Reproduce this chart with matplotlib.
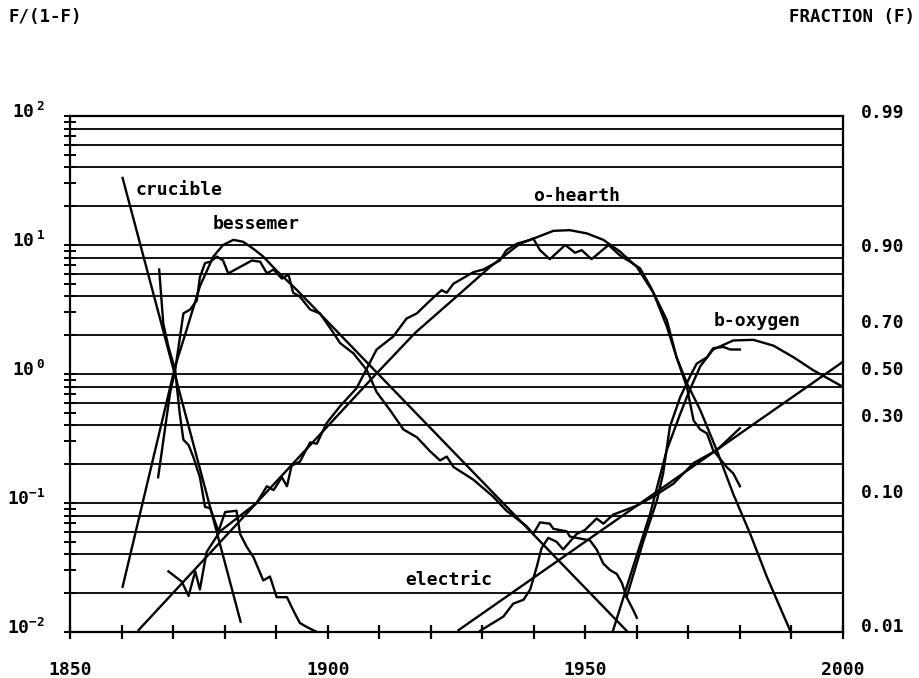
import numpy as np
import matplotlib
matplotlib.use("Agg")
import matplotlib.pyplot as plt
from matplotlib.ticker import FixedLocator, NullLocator, LogLocator
from matplotlib.transforms import ScaledTranslation

plt.rcParams["font.family"] = ["DejaVu Sans Mono"]
plt.rcParams["font.weight"] = "bold"
plt.rcParams["mathtext.default"] = "regular"

# log10 of F/(1-F)
crucible_fit_years = [1860.2, 1883.1]
crucible_fit_log = [1.52, -1.92]

crucible_years = [1867.3, 1868.1, 1869.1, 1870.4, 1871.3, 1872.0, 1873.0, 1873.9, 1875.2,
                  1876.2, 1877.2, 1878.8, 1880.1, 1882.3, 1883.0, 1884.3, 1885.6, 1887.5,
                  1888.8, 1890.1, 1892.1, 1893.3, 1894.6, 1895.9, 1897.9]
crucible_log = [0.81, 0.39, 0.21, 0.03, -0.31, -0.51, -0.55, -0.64, -0.80,
                -1.03, -1.04, -1.22, -1.07, -1.06, -1.24, -1.34, -1.42, -1.60,
                -1.57, -1.73, -1.73, -1.83, -1.93, -1.96, -2.00]

bessemer_model_years = [1860.2, 1870.4, 1872.6, 1875.2, 1877.8, 1879.7, 1881.7, 1883.6, 1885.6,
                        1887.5, 1890.1, 1893.3, 1896.0, 1958.0]
bessemer_model_log = [-1.65, 0.06, 0.34, 0.68, 0.91, 1.00, 1.04, 1.025, 0.97,
                      0.91, 0.80, 0.68, 0.57, -1.99]

bessemer_years = [1867.1, 1869.4, 1870.4, 1872.0, 1873.3, 1874.6, 1875.2, 1876.2, 1877.2,
                  1878.5, 1879.7, 1880.7, 1883.0, 1885.3, 1886.9, 1888.2, 1889.5, 1891.1,
                  1892.4, 1893.3, 1894.6, 1896.6, 1898.5, 1901.1, 1902.4, 1905.0, 1907.6,
                  1909.5, 1912.1, 1914.7, 1917.3, 1919.9, 1921.8, 1923.1, 1924.4, 1928.3,
                  1932.1, 1934.7, 1938.6, 1939.9, 1941.2, 1943.1, 1943.8, 1946.4, 1947.0,
                  1950.9, 1952.2, 1953.5, 1954.8, 1956.1, 1957.1, 1958.0, 1959.3, 1960.0]
bessemer_log = [-0.80, -0.15, 0.03, 0.47, 0.50, 0.57, 0.75, 0.86, 0.87,
                0.91, 0.88, 0.78, 0.83, 0.88, 0.87, 0.78, 0.81, 0.74,
                0.77, 0.63, 0.60, 0.50, 0.47, 0.32, 0.24, 0.16, 0.03,
                -0.14, -0.28, -0.43, -0.49, -0.60, -0.67, -0.64, -0.72, -0.82,
                -0.95, -1.06, -1.18, -1.24, -1.15, -1.16, -1.20, -1.22, -1.26,
                -1.29, -1.36, -1.47, -1.52, -1.55, -1.62, -1.73, -1.83, -1.89]

ohearth_model_years = [1863.3, 1909.5, 1917.0, 1925.0, 1931.5, 1937.3, 1940.6, 1943.8, 1947.0,
                       1950.3, 1953.5, 1956.7, 1960.0, 1963.2, 1965.8, 1967.7, 1969.7, 1972.3,
                       1975.5, 1978.7, 1982.0, 1985.2, 1989.7]
ohearth_model_log = [-1.985, 0.005, 0.32, 0.60, 0.83, 1.01, 1.06, 1.11, 1.115,
                     1.09, 1.04, 0.95, 0.83, 0.63, 0.37, 0.13, -0.07, -0.28,
                     -0.59, -0.93, -1.24, -1.57, -1.985]

ohearth_years = [1869.1, 1871.7, 1873.0, 1874.3, 1875.2, 1876.5, 1879.1, 1883.6, 1886.2,
                 1888.2, 1889.5, 1891.1, 1892.1, 1893.0, 1894.6, 1896.6, 1897.9, 1899.8,
                 1902.4, 1905.6, 1909.5, 1912.7, 1915.3, 1917.3, 1919.9, 1922.1, 1923.1,
                 1924.4, 1928.3, 1930.2, 1933.4, 1934.7, 1936.7, 1939.3, 1939.9, 1941.2,
                 1943.1, 1946.1, 1948.0, 1949.3, 1951.2, 1954.5, 1956.7, 1958.7, 1960.6,
                 1962.6, 1965.8, 1967.7, 1969.7, 1971.0, 1972.3, 1973.6, 1974.8, 1977.4,
                 1978.7, 1980.0]
ohearth_log = [-1.53, -1.61, -1.72, -1.53, -1.67, -1.38, -1.22, -1.08, -1.00,
               -0.87, -0.90, -0.80, -0.87, -0.71, -0.68, -0.53, -0.54, -0.38,
               -0.25, -0.11, 0.19, 0.29, 0.43, 0.47, 0.57, 0.65, 0.63,
               0.70, 0.79, 0.81, 0.88, 0.96, 1.01, 1.04, 1.05, 0.96,
               0.89, 1.00, 0.94, 0.96, 0.89, 1.00, 0.92, 0.87, 0.82,
               0.68, 0.42, 0.13, -0.10, -0.36, -0.43, -0.46, -0.59, -0.72,
               -0.77, -0.87]

electric_model_years = [1925.4, 2000.0]
electric_model_log = [-1.985, 0.095]

electric_years = [1929.6, 1934.1, 1936.0, 1938.0, 1939.3, 1940.6, 1941.5, 1942.8, 1944.4,
                  1945.7, 1948.3, 1949.9, 1952.2, 1953.5, 1955.4, 1960.0, 1963.2, 1967.1,
                  1971.0, 1975.5, 1980.0]
electric_log = [-1.99, -1.88, -1.78, -1.75, -1.67, -1.49, -1.35, -1.27, -1.30,
                -1.36, -1.24, -1.21, -1.12, -1.16, -1.09, -1.02, -0.95, -0.85,
                -0.69, -0.59, -0.42]

boxygen_model_years = [1955.4, 1959.3, 1962.6, 1965.8, 1968.4, 1970.3, 1972.3, 1974.8, 1978.7,
                       1982.6, 1986.5, 1990.4, 1994.2, 2000.0]
boxygen_model_log = [-1.985, -1.49, -1.08, -0.59, -0.31, -0.12, 0.06, 0.19, 0.26,
                     0.265, 0.22, 0.13, 0.03, -0.10]

boxygen_years = [1958.0, 1961.3, 1963.9, 1965.1, 1966.4, 1968.4, 1970.3, 1971.6, 1973.6,
                 1974.8, 1976.8, 1978.1, 1980.0]
boxygen_log = [-1.73, -1.29, -0.98, -0.77, -0.41, -0.18, -0.02, 0.08, 0.13,
               0.20, 0.21, 0.19, 0.19]

year_ticks = [1850, 1900, 1950, 2000]
left_ticks = [0.01, 0.1, 1, 10, 100]
left_labels = ["$10^{-2}$", "$10^{-1}$", "$10^{\\,0}$", "$10^{\\,1}$", "$10^{\\,2}$"]
fractions = [0.99, 0.90, 0.70, 0.50, 0.30, 0.10, 0.01]
fraction_labels = ["0.99", "0.90", "0.70", "0.50", "0.30", "0.10", "0.01"]
grid_levels = [m * 10.0 ** e for e in range(-2, 2) for m in (1, 2, 4, 6, 8)] + [100]

fig = plt.figure(figsize=(9.19, 6.78), dpi=100)
ax = fig.add_axes([0.0762, 0.0678, 0.8411, 0.7611])
ax.set_yscale("log")
ax.set_xlim(1850, 2000)
ax.set_ylim(0.01, 100)

for g in grid_levels:
    ax.axhline(g, color="black", lw=1.3, zorder=1)

lw = 1.7
curves = [
    (crucible_fit_years, crucible_fit_log),
    (crucible_years, crucible_log),
    (bessemer_model_years, bessemer_model_log),
    (bessemer_years, bessemer_log),
    (ohearth_model_years, ohearth_model_log),
    (ohearth_years, ohearth_log),
    (electric_model_years, electric_model_log),
    (electric_years, electric_log),
    (boxygen_model_years, boxygen_model_log),
    (boxygen_years, boxygen_log),
]
for yrs, logs in curves:
    ax.plot(yrs, 10.0 ** np.asarray(logs), color="black", lw=lw, zorder=3,
            solid_joinstyle="round")

label_kw = dict(fontsize=13, fontweight="bold", color="black", zorder=4, va="center")
ax.text(1862.8, 26.7, "crucible", **label_kw)
ax.text(1877.6, 14.5, "bessemer", **label_kw)
ax.text(1939.8, 24.0, "o-hearth", **label_kw)
ax.text(1974.8, 2.58, "b-oxygen", **label_kw)
ax.text(1915.0, 0.0253, "electric", **label_kw)

for side in ("left", "right", "bottom", "top"):
    ax.spines[side].set_linewidth(1.6)

ax.xaxis.set_major_locator(FixedLocator(year_ticks))
ax.xaxis.set_minor_locator(FixedLocator(list(range(1850, 2001, 10))))
ax.tick_params(axis="x", which="both", direction="inout", length=10, width=1.6,
               labelsize=13, pad=16)

ax.yaxis.set_major_locator(FixedLocator(left_ticks))
ax.yaxis.set_minor_locator(LogLocator(base=10, subs=np.arange(2, 10)))
ax.set_yticklabels(left_labels)
ax.yaxis.set_minor_formatter(plt.NullFormatter())
ax.tick_params(axis="y", which="both", left=True, right=True, direction="inout",
               length=8, width=1.4, labelsize=13, pad=14)

up = ScaledTranslation(0, 0.06, fig.dpi_scale_trans)
for lab in ax.get_yticklabels():
    lab.set_transform(lab.get_transform() + up)

ax2 = ax.twinx()
ax2.set_yscale("log")
ax2.set_ylim(0.01, 100)
ax2.yaxis.set_major_locator(FixedLocator([f / (1 - f) for f in fractions]))
ax2.yaxis.set_minor_locator(NullLocator())
ax2.set_yticklabels(fraction_labels)
ax2.tick_params(axis="y", length=0, labelsize=13, pad=13)
for lab in ax2.get_yticklabels():
    lab.set_transform(lab.get_transform() + up)
for side in ("left", "right", "bottom", "top"):
    ax2.spines[side].set_visible(False)

fig.text(0.009, 0.975, "F/(1-F)", fontsize=12.5, va="center", ha="left")
fig.text(0.996, 0.975, "FRACTION (F)", fontsize=12.5, va="center", ha="right")

fig.savefig("out.png", dpi=100)
